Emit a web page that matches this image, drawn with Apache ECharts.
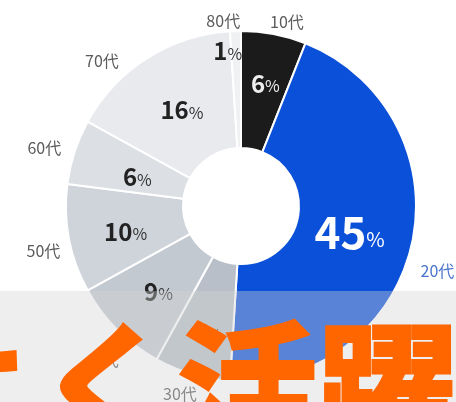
<!DOCTYPE html>
<html><head><meta charset="utf-8">
<script src="https://cdn.jsdelivr.net/npm/echarts@6/dist/echarts.min.js"></script>
<style>html,body{margin:0;padding:0;background:#fff}#c{width:456px;height:402px}</style>
</head><body><div id="c"></div>
<script>
const categories = ['10代','20代','30代','40代','50代','60代','70代','80代'];
const values = [6,45,7,9,10,6,16,1];
const overlayText = 'よく活躍';

const palette = ['#1b1b1b','#0a50d8','#b8bfc8','#c3c9d1','#cfd4db','#dcdfe4','#e8eaee','#eff1f3'];
// label nudges (style only)
const nudgeX = [-11,-8,13,15,8,3,-17,10];
const nudgeY = [0,24,8,22,10,0,13,2];
const innerNudgeX = [2,-8,0,2,2,10,5,11];
const innerNudgeY = [-5,0,12,1,3,8,5,0];
const FONT = '"Noto Sans CJK JP","Noto Sans",sans-serif';
const chart = echarts.init(document.getElementById('c'), null, {renderer:'canvas'});

const outerData = categories.map((c,i)=>({
  name:c, value:values[i],
  itemStyle:{color:palette[i]},
  label: i===1 ? {color:'#4a74cc'} : {}
}));
const innerData = categories.map((c,i)=>{
  let rich;
  if(i===1){
    rich={n:{fontSize:44,fontWeight:'bold',color:'#fff',fontFamily:FONT},p:{fontSize:20,color:'#fff',fontFamily:FONT,padding:[14,0,0,0]}};
  } else if(i===0){
    rich={n:{fontSize:24,fontWeight:'bold',color:'#eee',fontFamily:FONT},p:{fontSize:16,color:'#eee',fontFamily:FONT,padding:[5,0,0,0]}};
  } else {
    rich={n:{fontSize:24,fontWeight:'bold',color:'#222',fontFamily:FONT},p:{fontSize:16,color:'#333',fontFamily:FONT,padding:[5,0,0,0]}};
  }
  const item = {name:c, value:values[i], label:{rich}};
  if(i===7){
    item.label.position='outside';
    item.labelLine={show:false,length:-20,length2:0};
  }
  return item;
});

chart.setOption({
  animation:false,
  series:[
    {
      type:'pie', center:[241,206], radius:[58,175], startAngle:90, clockwise:true,
      avoidLabelOverlap:false, silent:true,
      itemStyle:{borderColor:'#fff',borderWidth:2},
      label:{show:true,position:'outside',formatter:'{b}',color:'#5a5a5a',fontSize:16,fontFamily:FONT},
      labelLine:{show:false,length:12,length2:0},
      labelLayout:p=>({dx:nudgeX[p.dataIndex],dy:nudgeY[p.dataIndex]}),
      data:outerData
    },
    {
      type:'pie', center:[241,206], radius:[58,175], startAngle:90, clockwise:true,
      avoidLabelOverlap:false, silent:true, minShowLabelAngle:0,
      itemStyle:{color:'rgba(0,0,0,0)',borderWidth:0},
      label:{show:true,position:'inside',formatter:p=>'{n|'+p.value+'}{p|%}'},
      labelLine:{show:false},
      labelLayout:p=>({dx:innerNudgeX[p.dataIndex],dy:innerNudgeY[p.dataIndex]}),
      data:innerData
    }
  ],
  graphic:[
    {type:'rect',z:100,shape:{x:0,y:291,width:456,height:111},style:{fill:'rgba(211,211,211,0.39)'}},
    {type:'text',z:101,x:-103,y:317,style:{text:overlayText,font:'bold 140px '+FONT,fill:'#ff6600',stroke:'#ff6600',lineWidth:4,lineJoin:'round',textAlign:'left',textVerticalAlign:'top'}}
  ]
});
</script></body></html>
